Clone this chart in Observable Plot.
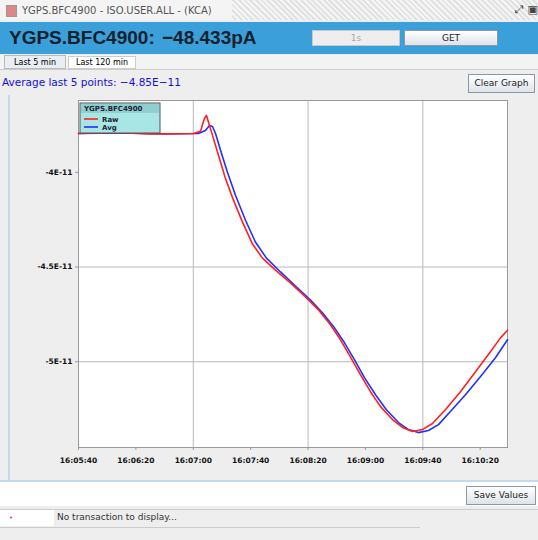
<!DOCTYPE html>
<html><head><meta charset="utf-8">
<script src="https://cdn.jsdelivr.net/npm/d3@7"></script>
<script src="https://cdn.jsdelivr.net/npm/@observablehq/plot@0.6"></script>
<style>
body{margin:0;width:538px;height:540px;overflow:hidden;background:#eeeeee;font-family:"DejaVu Sans",sans-serif;position:relative}
.a{position:absolute}
.btn{position:absolute;background:linear-gradient(#ffffff,#dde3ea);border:1px solid #8a97a8;font-size:9px;text-align:center;color:#222;box-sizing:border-box}
</style></head><body>
<div class="a" style="left:0;top:0;width:538px;height:20px;background:repeating-linear-gradient(45deg,#f4f4f4 0 2px,#e2e2e2 2px 4px);"></div>
<div class="a" style="left:0;top:0;width:232px;height:20px;background:#f4f4f4"></div>
<div class="a" style="left:6px;top:5px;width:9px;height:10px;background:#d88;border:1px solid #999"></div>
<div class="a" style="left:22px;top:5px;font-size:10px;color:#555">YGPS.BFC4900 - ISO.USER.ALL - (KCA)</div>
<div class="a" style="left:515px;top:3px;font-size:11px;color:#444">⤢ ▣</div>
<div class="a" style="left:0;top:22px;width:538px;height:32px;background:#3ba0d9"></div>
<div class="a" style="left:9px;top:27px;font-family:'Liberation Sans',sans-serif;font-size:19px;font-weight:bold;color:#15212e">YGPS.BFC4900:</div>
<div class="a" style="left:162px;top:27px;font-family:'Liberation Sans',sans-serif;font-size:19px;font-weight:bold;color:#15212e">−48.433pA</div>
<div class="btn" style="left:312px;top:30px;width:88px;height:16px;background:#eeeeee;border-color:#c9c9c9;color:#aaa;line-height:14px">1s</div>
<div class="btn" style="left:404px;top:30px;width:94px;height:16px;line-height:14px">GET</div>
<div class="a" style="left:0;top:55px;width:538px;height:14px;background:#f3f3f3;border-bottom:1px solid #ccc"></div>
<div class="a" style="left:4px;top:55px;width:62px;height:14px;background:#e8eef4;border:1px solid #bbb;font-size:8px;line-height:13px;text-align:center;box-sizing:border-box">Last 5 min</div>
<div class="a" style="left:68px;top:56px;width:68px;height:13px;background:#fff;border:1px solid #ccc;font-size:8px;line-height:12px;text-align:center;box-sizing:border-box">Last 120 min</div>
<div class="a" style="left:2px;top:76px;font-size:10.5px;color:#1010e0">Average last 5 points: −4.85E−11</div>
<div class="btn" style="left:468px;top:74px;width:67px;height:19px;line-height:17px">Clear Graph</div>
<div class="a" style="left:8px;top:95px;width:2px;height:385px;background:#c5d9ee"></div>
<div id="chart" class="a" style="left:0;top:95px"></div>
<div class="a" style="left:0;top:480px;width:538px;height:2px;background:#c5d9ee"></div>
<div class="a" style="left:0;top:482px;width:538px;height:24px;background:#fff"></div>
<div class="btn" style="left:466px;top:486px;width:70px;height:19px;line-height:17px">Save Values</div>
<div class="a" style="left:0;top:509px;width:538px;height:1px;background:#ccc"></div>
<div class="a" style="left:0;top:510px;width:54px;height:16px;background:#fff"></div>
<div class="a" style="left:9px;top:514px;font-size:7px;color:#e44">•</div>
<div class="a" style="left:57px;top:512px;font-size:9px;color:#333">No transaction to display...</div>
<div class="a" style="left:0;top:527px;width:420px;height:1px;background:#ccc"></div>
<script>
// time (s from first tick) and value (E-11 A)
const tickTimes = [0, 40, 80, 120, 160, 200, 240, 280];
const tickLabels = ["16:05:40","16:06:20","16:07:00","16:07:40","16:08:20","16:09:00","16:09:40","16:10:20"];
const gridTimes = [80, 160, 240];
const yTicks = [-4, -4.5, -5];
const yGrid = [-4.5, -5];
const yTickLabels = ["-4E-11", "-4.5E-11", "-5E-11"];
const legendTitle = "YGPS.BFC4900";
const seriesNames = ["Raw", "Avg"];

const redT = [0,25,50,80,85,87.8,89.2,91.3,93.4,97.6,102.4,108,114.3,121.3,128.2,137.3,147.7,158.2,167.2,175.6,182.6,189.5,196.5,203.5,210.5,218.8,225.8,232.8,239.7,246.7,255.7,266.2,276.7,287.1,294.1,299];
const redV = [-3.795,-3.79,-3.797,-3.795,-3.784,-3.716,-3.700,-3.753,-3.805,-3.911,-4.032,-4.147,-4.263,-4.379,-4.453,-4.516,-4.584,-4.658,-4.726,-4.805,-4.884,-4.974,-5.068,-5.158,-5.237,-5.305,-5.347,-5.368,-5.358,-5.326,-5.253,-5.158,-5.053,-4.947,-4.874,-4.834];
const blueT = [0,30,60,83.6,88.5,91.3,93.4,95.5,99,103.8,109.4,116.4,123.3,131,140.8,151.2,161.7,170,178.4,185.4,192.3,199.3,207,214.6,223,230,236.9,243.9,250.9,259.2,269.7,280.1,290.6,299];
const blueV = [-3.795,-3.792,-3.797,-3.795,-3.779,-3.753,-3.758,-3.795,-3.884,-4.0,-4.121,-4.253,-4.368,-4.453,-4.526,-4.6,-4.674,-4.742,-4.821,-4.9,-4.989,-5.084,-5.174,-5.253,-5.321,-5.358,-5.374,-5.363,-5.332,-5.263,-5.174,-5.079,-4.979,-4.884];

const red = redT.map((t,i)=>({t, v: redV[i]}));
const blue = blueT.map((t,i)=>({t, v: blueV[i]}));
const fmtX = (d) => tickLabels[tickTimes.indexOf(d)];
const fmtY = (d) => yTickLabels[yTicks.indexOf(d)];

const chart = Plot.plot({
  width: 520, height: 385,
  marginLeft: 78, marginRight: 13, marginTop: 5, marginBottom: 33,
  style: {background: "transparent", fontFamily: "DejaVu Sans", fontSize: "7.5px", color: "#111"},
  x: {domain: [0, 299], label: null},
  y: {domain: [-5.4526, -3.621], label: null},
  marks: [
    Plot.rect([0], {x1: 0, x2: 299, y1: -5.4526, y2: -3.621, fill: "white"}),
    Plot.gridX(gridTimes, {stroke: "#b8b8b8", strokeOpacity: 1}),
    Plot.gridY(yGrid, {stroke: "#b8b8b8", strokeOpacity: 1}),
    Plot.frame({stroke: "#999"}),
    Plot.line(blue, {x: "t", y: "v", stroke: "#2030ff", strokeWidth: 1.6}),
    Plot.line(red, {x: "t", y: "v", stroke: "#ff2020", strokeWidth: 1.6}),
    Plot.axisX({ticks: tickTimes, tickFormat: fmtX, tickSize: 3, tickPadding: 7, fontWeight: "bold", stroke: "#999"}),
    Plot.axisY({ticks: yTicks, tickFormat: fmtY, tickSize: 3, tickPadding: 3, fontWeight: "bold", stroke: "#999"})
  ]
});
document.getElementById("chart").appendChild(chart);

// legend inside plot area, drawn in the SVG
const svg = d3.select(chart);
const g = svg.append("g").attr("transform", "translate(80,8)").attr("text-anchor", "start");
g.append("rect").attr("width", 80).attr("height", 30).attr("fill", "#a8e6e6").attr("stroke", "#555");
g.append("rect").attr("x", 1).attr("y", 1).attr("width", 78).attr("height", 9).attr("fill", "#8fcfd0");
g.append("text").attr("x", 4).attr("y", 8).attr("font-size", 7).attr("font-weight", "bold").attr("fill", "#223").text(legendTitle);
const cols = ["#ff2020", "#2030ff"];
seriesNames.forEach((n, i) => {
  const yy = 16 + i * 8;
  g.append("line").attr("x1", 4).attr("x2", 18).attr("y1", yy).attr("y2", yy).attr("stroke", cols[i]).attr("stroke-width", 1.6);
  g.append("text").attr("x", 22).attr("y", yy + 3).attr("font-size", 7).attr("font-weight", "bold").attr("fill", "#223").text(n);
});
</script>
</body></html>
